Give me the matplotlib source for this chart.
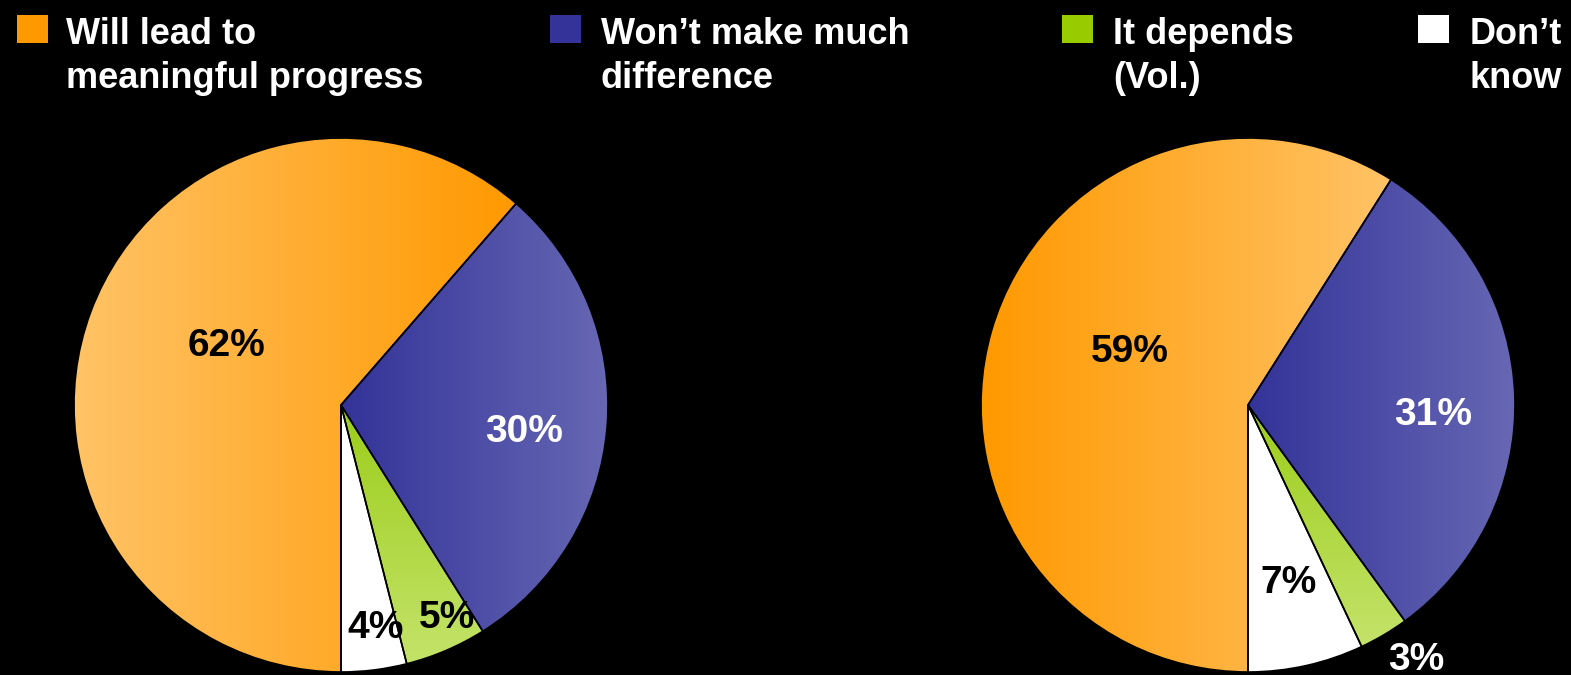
import numpy as np
import matplotlib
matplotlib.use("Agg")
import matplotlib.pyplot as plt
from matplotlib.colors import LinearSegmentedColormap

plt.rcParams["font.family"] = ["Liberation Sans", "DejaVu Sans"]

# data
categories = ["Don't know", "It depends (Vol.)", "Won't make much difference",
              "Will lead to meaningful progress"]
legend_labels = ["Will lead to\nmeaningful progress", "Won\u2019t make much\ndifference",
                 "It depends\n(Vol.)", "Don\u2019t\nknow"]
pie_left = [4, 5, 30, 62]
pie_right = [7, 3, 31, 59]
label_left = ["4%", "5%", "30%", "62%"]
label_right = ["7%", "3%", "31%", "59%"]

W, H = 1571, 675
fig = plt.figure(figsize=(W / 100, H / 100), dpi=100, facecolor="black")


def gradient_wedge(ax, wedge, c0, c1, vertical=False):
    ext = wedge.get_path().transformed(wedge.get_patch_transform()).get_extents()
    cmap = LinearSegmentedColormap.from_list("g", [c0, c1])
    g = np.linspace(0, 1, 256)
    arr = g[:, None] if vertical else g[None, :]
    # origin upper: first row at the top, so c0 sits at the top for vertical
    im = ax.imshow(arr, cmap=cmap, extent=(ext.x0, ext.x1, ext.y0, ext.y1),
                   aspect="auto", zorder=1, interpolation="bicubic")
    im.set_clip_path(wedge)
    wedge.set_facecolor("none")
    wedge.set_zorder(2)


def draw_pie(cx, cy, r, values, labels, orange, label_pos, label_colors):
    ax = fig.add_axes([(cx - r) / W, (H - cy - r) / H, 2 * r / W, 2 * r / H])
    ax.set_facecolor("black")
    wedges, _ = ax.pie(values, startangle=-90, counterclock=True, radius=1,
                       wedgeprops=dict(edgecolor="black", linewidth=1.2))
    # white, green, blue, orange
    wedges[0].set_facecolor("white")
    wedges[0].set_zorder(2)
    gradient_wedge(ax, wedges[1], "#9ccd1a", "#c4e36a", vertical=True)
    gradient_wedge(ax, wedges[2], "#333399", "#6767b4")
    gradient_wedge(ax, wedges[3], orange[0], orange[1])
    ax.set_xlim(-1, 1)
    ax.set_ylim(-1, 1)
    ax.axis("off")
    for lab, (px, py), col in zip(labels, label_pos, label_colors):
        fig.text(px / W, 1 - py / H, lab, color=col, fontsize=28, fontweight="bold",
                 ha="center", va="center")


draw_pie(341, 405, 267, pie_left, label_left, ("#ffc366", "#ff9900"),
         [(376, 628), (447, 618), (524, 432), (227, 346)],
         ["black", "black", "white", "black"])
draw_pie(1248, 405, 267, pie_right, label_right, ("#ff9900", "#ffc366"),
         [(1289, 583), (1416, 660), (1433, 415), (1130, 352)],
         ["black", "white", "white", "black"])

# legend
legend_colors = ["#ff9900", "#333399", "#99cc00", "#ffffff"]
sq_x = [17, 550, 1062, 1418]
txt_x = [66, 601, 1113, 1470]
for lab, col, sx, tx in zip(legend_labels, legend_colors, sq_x, txt_x):
    fig.patches.append(plt.Rectangle((sx / W, 1 - 43 / H), 31 / W, 28 / H,
                                     transform=fig.transFigure, facecolor=col,
                                     edgecolor="none"))
    for i, line in enumerate(lab.split("\n")):
        fig.text(tx / W, 1 - (44 + 44 * i) / H, line, color="white", fontsize=26,
                 fontweight="bold", ha="left", va="baseline")

fig.savefig("out.png", dpi=100, facecolor="black")
